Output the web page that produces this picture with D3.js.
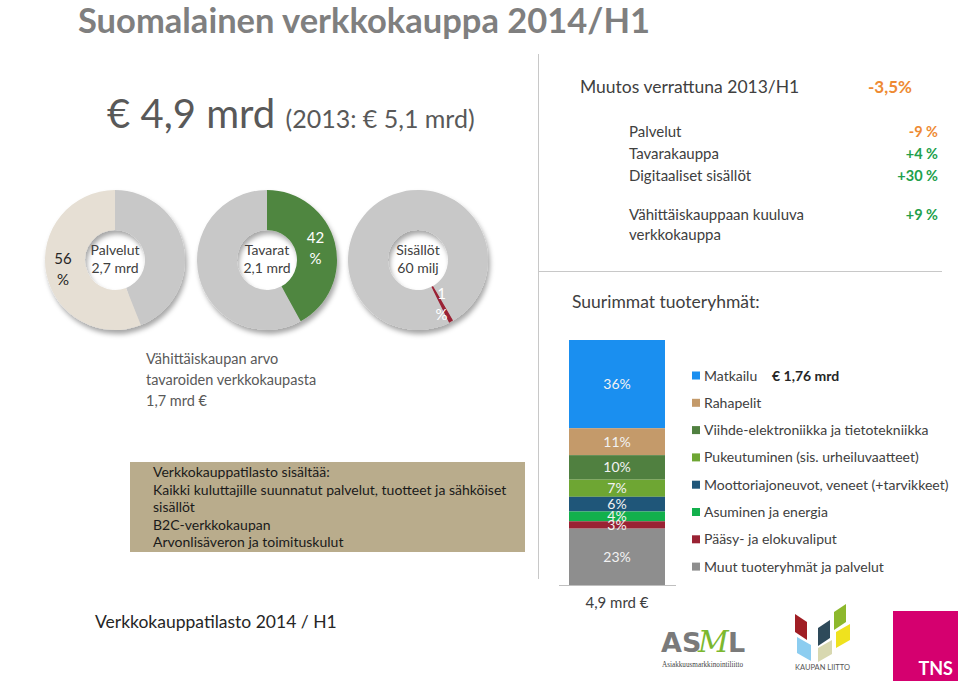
<!DOCTYPE html>
<html>
<head>
<meta charset="utf-8">
<script src="https://cdn.jsdelivr.net/npm/d3@7"></script>
<style>
  body { margin: 0; background: #fff; }
  svg { display: block; font-family: Lato, "Open Sans", sans-serif; }
</style>
</head>
<body>
<div id="chart"></div>
<script>
// ---- data ----
var donutNames   = ["Palvelut", "Tavarat", "Sisällöt"];
var donutAmounts = ["2,7 mrd", "2,1 mrd", "60 milj"];
var donutShares  = [56, 42, 1];
var donutColors  = ["#e6dfd4", "#4f8640", "#9a2234"];

var changeLabels = ["Palvelut", "Tavarakauppa", "Digitaaliset sisällöt", "Vähittäiskauppaan kuuluva|verkkokauppa"];
var changeValues = ["-9 %", "+4 %", "+30 %", "+9 %"];

var groupNames  = ["Matkailu", "Rahapelit", "Viihde-elektroniikka ja tietotekniikka",
                   "Pukeutuminen (sis. urheiluvaatteet)", "Moottoriajoneuvot, veneet (+tarvikkeet)",
                   "Asuminen ja energia", "Pääsy- ja elokuvaliput", "Muut tuoteryhmät ja palvelut"];
var groupShares = [36, 11, 10, 7, 6, 4, 3, 23];
var groupColors = ["#1a8ff0", "#c49a6a", "#508040", "#6ea633", "#1f5679", "#12b04c", "#9a2234", "#8e8e8e"];

var infoLines = ["Verkkokauppatilasto sisältää:",
                 "Kaikki kuluttajille suunnatut palvelut, tuotteet ja sähköiset",
                 "sisällöt", "B2C-verkkokaupan", "Arvonlisäveron ja toimituskulut"];

var width = 960, height = 681;
var svg = d3.select("#chart").append("svg")
    .attr("width", width).attr("height", height);

svg.append("rect").attr("width", width).attr("height", height).attr("fill", "#fff");

var defs = svg.append("defs");
defs.append("filter").attr("id", "shadow")
    .attr("x", "-20%").attr("y", "-20%").attr("width", "140%").attr("height", "140%")
  .append("feDropShadow")
    .attr("dx", 2).attr("dy", 4).attr("stdDeviation", 2.5)
    .attr("flood-color", "#000").attr("flood-opacity", 0.35);

// ---- title + header ----
svg.append("text").attr("x", 78).attr("y", 33)
    .attr("font-size", 34.5).attr("font-weight", "bold").attr("fill", "#7f7f7f")
    .text("Suomalainen verkkokauppa 2014/H1");

var big = svg.append("text").attr("x", 107).attr("y", 128).attr("fill", "#595959");
big.append("tspan").attr("font-size", 40).text("€ 4,9 mrd ");
big.append("tspan").attr("font-size", 25).text("(2013: € 5,1 mrd)");

// dividers
svg.append("line").attr("x1", 538.5).attr("x2", 538.5).attr("y1", 54).attr("y2", 579)
    .attr("stroke", "#c8c8c8").attr("stroke-width", 1);
svg.append("line").attr("x1", 538).attr("x2", 942).attr("y1", 271.5).attr("y2", 271.5)
    .attr("stroke", "#c8c8c8").attr("stroke-width", 1);

// ---- donuts ----
var R = 70, r0 = 30;
var arc = d3.arc().innerRadius(r0).outerRadius(R);
var labelArc = d3.arc().innerRadius(50).outerRadius(50);
var cx = [115, 267, 418], cy = 260;
// where each donut's coloured slice starts (degrees, clockwise from top)
var startDeg = [-201.6, 0, 150];
var labelFill = ["#262626", "#ffffff", "#ffffff"];

donutShares.forEach(function(v, i) {
  var pie = d3.pie().sort(null)
      .startAngle(startDeg[i] * Math.PI / 180)
      .endAngle(startDeg[i] * Math.PI / 180 + 2 * Math.PI);
  var arcs = pie([v, 100 - v]);
  var g = svg.append("g").attr("transform", "translate(" + cx[i] + "," + cy + ")");
  var ring = g.append("g").attr("filter", "url(#shadow)");
  ring.append("path").attr("d", arc(arcs[1])).attr("fill", "#c8c8c8");
  ring.append("path").attr("d", arc(arcs[0])).attr("fill", donutColors[i]);

  g.append("text").attr("text-anchor", "middle").attr("y", -5)
      .attr("font-size", 14).attr("fill", "#404040").text(donutNames[i]);
  g.append("text").attr("text-anchor", "middle").attr("y", 13)
      .attr("font-size", 14).attr("fill", "#404040").text(donutAmounts[i]);

  var c = labelArc.centroid(arcs[0]);
  var lx = i === 0 ? c[0] - 3 : c[0];
  g.append("text").attr("text-anchor", "middle").attr("x", lx).attr("y", c[1] - 5)
      .attr("font-size", 15).attr("fill", labelFill[i]).text(v);
  g.append("text").attr("text-anchor", "middle").attr("x", lx).attr("y", c[1] + 16)
      .attr("font-size", 15).attr("fill", labelFill[i]).text("%");
});

// ---- change table ----
svg.append("text").attr("x", 580).attr("y", 93).attr("font-size", 17.5).attr("fill", "#404040")
    .text("Muutos verrattuna 2013/H1");
svg.append("text").attr("x", 912).attr("y", 93).attr("text-anchor", "end")
    .attr("font-size", 17).attr("font-weight", "bold").attr("fill", "#ee8a33").text("-3,5%");

var rowY = [137, 159, 181, 220];
changeLabels.forEach(function(lab, i) {
  var t = svg.append("text").attr("x", 629).attr("y", rowY[i]).attr("font-size", 15).attr("fill", "#404040");
  lab.split("|").forEach(function(part, k) {
    t.append("tspan").attr("x", 629).attr("dy", k ? 20 : 0).text(part);
  });
  svg.append("text").attr("x", 938).attr("y", rowY[i]).attr("text-anchor", "end")
      .attr("font-size", 14.5).attr("font-weight", "bold")
      .attr("fill", changeValues[i][0] === "-" ? "#ee8a33" : "#22a04b")
      .text(changeValues[i]);
});

svg.append("text").attr("x", 572).attr("y", 308).attr("font-size", 17.5).attr("fill", "#404040")
    .text("Suurimmat tuoteryhmät:");

// ---- left notes ----
["Vähittäiskaupan arvo", "tavaroiden verkkokaupasta", "1,7 mrd €"].forEach(function(s, i) {
  svg.append("text").attr("x", 146).attr("y", 364 + i * 21).attr("font-size", 14.5)
      .attr("fill", "#595959").text(s);
});

svg.append("rect").attr("x", 130).attr("y", 462).attr("width", 395).attr("height", 90)
    .attr("fill", "#b9ac8c");
infoLines.forEach(function(s, i) {
  svg.append("text").attr("x", 153).attr("y", 477 + i * 17.6).attr("font-size", 14)
      .attr("fill", "#1a1a1a").text(s);
});

svg.append("text").attr("x", 95).attr("y", 628).attr("font-size", 17.5).attr("fill", "#262626")
    .text("Verkkokauppatilasto 2014 / H1");

// ---- stacked bar ----
var y = d3.scaleLinear().domain([0, 100]).range([340, 585]);
var ends = d3.cumsum(groupShares);
var segs = groupShares.map(function(v, i) {
  return { name: groupNames[i], v: v, y0: ends[i] - v, y1: ends[i], color: groupColors[i] };
});
var barX = 569, barW = 96;

svg.append("g").selectAll("rect").data(segs).join("rect")
    .attr("x", barX).attr("width", barW)
    .attr("y", function(d) { return y(d.y0); })
    .attr("height", function(d) { return y(d.y1) - y(d.y0); })
    .attr("fill", function(d) { return d.color; });

svg.append("g").selectAll("text").data(segs).join("text")
    .attr("x", barX + barW / 2)
    .attr("y", function(d) { return (y(d.y0) + y(d.y1)) / 2 + 5; })
    .attr("text-anchor", "middle").attr("font-size", 14).attr("fill", "#f2f2f2")
    .text(function(d) { return d.v + "%"; });

svg.append("line").attr("x1", 559).attr("x2", 676).attr("y1", 585.5).attr("y2", 585.5)
    .attr("stroke", "#bfbfbf");
svg.append("text").attr("x", 617).attr("y", 608).attr("text-anchor", "middle")
    .attr("font-size", 15).attr("fill", "#404040").text("4,9 mrd €");

// ---- legend ----
var leg = svg.append("g").selectAll("g").data(segs).join("g")
    .attr("transform", function(d, i) { return "translate(692," + (376 + i * 27.3) + ")"; });
leg.append("rect").attr("x", 0).attr("y", -4.5).attr("width", 8).attr("height", 8)
    .attr("fill", function(d) { return d.color; });
leg.append("text").attr("x", 12).attr("y", 4.5).attr("font-size", 14).attr("fill", "#404040")
    .text(function(d) { return d.name; });

svg.append("text").attr("x", 772).attr("y", 381).attr("font-size", 14).attr("font-weight", "bold")
    .attr("fill", "#262626").text("€ 1,76 mrd");

// ---- logos ----
var asml = svg.append("g");
asml.append("text").attr("x", 661).attr("y", 652).attr("font-size", 27).attr("font-weight", 900)
    .attr("fill", "#7a7a7a").attr("font-family", "'DejaVu Sans', sans-serif").text("AS");
asml.append("text").attr("x", 698).attr("y", 652).attr("font-size", 30).attr("font-style", "italic")
    .attr("fill", "#7cb82f").attr("font-family", "'DejaVu Serif', serif").text("M");
asml.append("text").attr("x", 728).attr("y", 652).attr("font-size", 27).attr("font-weight", 900)
    .attr("fill", "#7a7a7a").attr("font-family", "'DejaVu Sans', sans-serif").text("L");
asml.append("text").attr("x", 662).attr("y", 667).attr("font-size", 7.2)
    .attr("font-family", "'Liberation Serif', serif").attr("fill", "#444")
    .text("Asiakkuusmarkkinointiliitto");

var kl = svg.append("g");
var rh = function(x, yy, w, h, col, dir) {
  var s = dir * 8;
  kl.append("path").attr("d", "M" + x + "," + yy + "l" + w + "," + s + "l0," + h + "l" + (-w) + "," + (-s) + "z")
      .attr("fill", col);
};
rh(795, 614, 12, 18, "#a01e24", 1);
rh(797, 637, 14, 16, "#8ccdf0", 1);
rh(818, 628, 12, 18, "#2e4a5a", -1);
rh(818, 648, 14, 14, "#d8d8b0", -1);
rh(834, 612, 12, 18, "#8db82c", -1);
rh(836, 632, 14, 16, "#efe21e", -1);
kl.append("text").attr("x", 795).attr("y", 670).attr("font-size", 7.5).attr("fill", "#555")
    .text("KAUPAN LIITTO");

svg.append("rect").attr("x", 893).attr("y", 611).attr("width", 65).attr("height", 70).attr("fill", "#d5006f");
svg.append("text").attr("x", 953).attr("y", 675).attr("text-anchor", "end").attr("font-size", 18)
    .attr("font-weight", "bold").attr("fill", "#fff").text("TNS");
</script>
</body>
</html>
